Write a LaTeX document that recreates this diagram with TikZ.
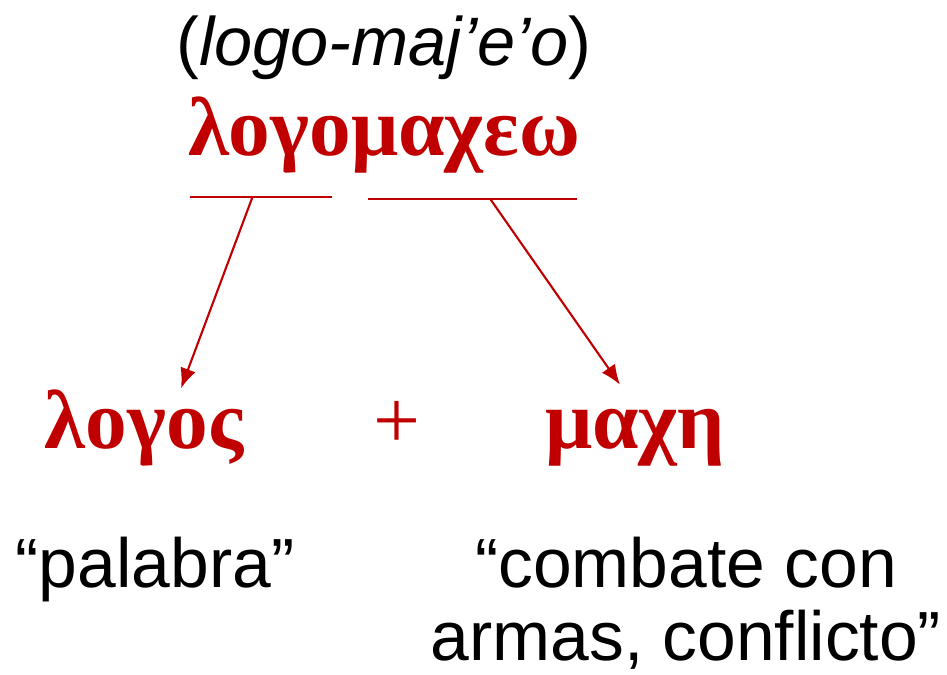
\documentclass[tikz,border=0pt]{standalone}
\usepackage{fontspec}
\setmainfont{Liberation Serif}
\setsansfont{Liberation Sans}
\usepackage{xcolor}
\definecolor{colorGreek}{HTML}{C00000}
\colorlet{colorGloss}{black}
\usetikzlibrary{arrows, arrows.meta, calc, positioning}
\tikzset{greek/.style={colorGreek, font=\fontsize{23.7}{26}\selectfont\bfseries, anchor=base, inner sep=0pt},
  gloss/.style={colorGloss, font=\fontsize{19.8}{20.7}\selectfont\sffamily, anchor=base, inner sep=0pt, align=center}}

\begin{document}
\begin{tikzpicture}[>={Latex[length=2mm, width=1.6mm]}, line width=0.6pt]
\useasboundingbox (0,0) rectangle (9.47,-6.74);
\node[gloss, font=\fontsize{19.5}{21}\selectfont\sffamily] (pron) at (3.84,-0.65) {(\textit{logo-maj’e’o})};
\node[greek] (word) at (3.84,-1.55) {λογομαχεω};
\node[greek] (logos) at (1.44,-4.48) {λογος};
\node[greek, font=\fontsize{23.7}{26}\selectfont] (plus) at (3.97,-4.48) {+};
\node[greek] (mache) at (6.35,-4.48) {μαχη};
\node[gloss] (glLogos) at (1.55,-5.87) {“palabra”};
\node[gloss] (glMache) at (6.86,-6.60) {“combate con\\armas, conflicto”};
\coordinate (ulA) at (1.90,-1.97);
\coordinate (ulB) at (3.32,-1.97);
\coordinate (ulC) at (3.68,-1.99);
\coordinate (ulD) at (5.77,-1.99);
\draw [colorGreek] (ulA) -- (ulB);
\draw [colorGreek] (ulC) -- (ulD);
\draw [->, colorGreek] ($(ulA)!0.44!(ulB)$) -- ([xshift=0.37cm]logos.north);
\draw [->, colorGreek] ($(ulC)!0.585!(ulD)$) -- ([xshift=-0.15cm, yshift=0.23cm]mache.north);
\end{tikzpicture}
\end{document}
